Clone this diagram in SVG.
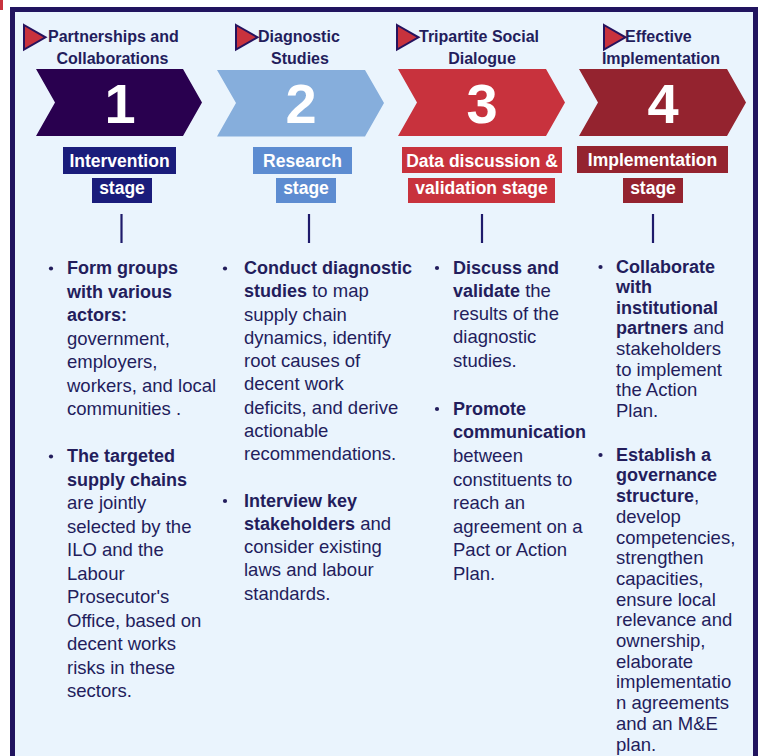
<svg xmlns="http://www.w3.org/2000/svg" width="763" height="756" viewBox="0 0 763 756">
<style>
.t{font-family:"Liberation Sans",Arial,sans-serif;font-size:18.5px;fill:#231d5c}
.b{font-weight:bold;font-size:18px}
.title{font-family:"Liberation Sans",Arial,sans-serif;font-weight:bold;font-size:16px;fill:#231d5c}
.mid{text-anchor:middle}
.num{font-family:"Liberation Sans",Arial,sans-serif;font-weight:bold;font-size:56px;fill:#ffffff;text-anchor:middle}
.lab{font-family:"Liberation Sans",Arial,sans-serif;font-weight:bold;font-size:17.5px;fill:#ffffff;text-anchor:middle}
.tri{fill:#c8323d;stroke:#26135e;stroke-width:2;stroke-linejoin:miter}
.dot{fill:#231d5c}
.conn{stroke:#1e1a6b;stroke-width:2.2}
</style>
<rect x="0" y="0" width="763" height="756" fill="#ffffff"/>
<rect x="0" y="0" width="3" height="10" fill="#c8323d"/>
<rect x="12.5" y="9.5" width="743" height="800" fill="#eaf4fd" stroke="#21145f" stroke-width="5"/>

<g id="connectors">
<line class="conn" x1="121.5" y1="214" x2="121.5" y2="243"/>
<line class="conn" x1="309" y1="214" x2="309" y2="243"/>
<line class="conn" x1="482" y1="214" x2="482" y2="243"/>
<line class="conn" x1="653" y1="214" x2="653" y2="243"/>
</g>

<g id="stage1">
<polygon class="tri" points="24,25 45.5,37.3 24,49.5"/>
<text class="title" x="48" y="42">Partnerships and</text>
<text class="title mid" x="112.5" y="64">Collaborations</text>
<polygon points="36,69 183,69 202,102.5 183,136 36,136 55,102.5" fill="#29004f"/>
<text class="num" x="120" y="123">1</text>
<rect x="63" y="147" width="113" height="27" fill="#1a1c7b"/>
<text class="lab" x="119.5" y="167">Intervention</text>
<rect x="92" y="178" width="60" height="25" fill="#1a1c7b"/>
<text class="lab" x="122" y="194">stage</text>
<circle class="dot" cx="51" cy="268.5" r="2.1"/>
<circle class="dot" cx="51" cy="456.5" r="2.1"/>
<text class="t">
<tspan class="b" x="67" y="274">Form groups</tspan>
<tspan class="b" x="67" y="297.5">with various</tspan>
<tspan class="b" x="67" y="321">actors:</tspan>
<tspan x="67" y="344.5">government,</tspan>
<tspan x="67" y="368">employers,</tspan>
<tspan x="67" y="391.5">workers, and local</tspan>
<tspan x="67" y="415">communities .</tspan>
<tspan class="b" x="67" y="462">The targeted</tspan>
<tspan class="b" x="67" y="485.5">supply chains</tspan>
<tspan x="67" y="509">are jointly</tspan>
<tspan x="67" y="532.5">selected by the</tspan>
<tspan x="67" y="556">ILO and the</tspan>
<tspan x="67" y="579.5">Labour</tspan>
<tspan x="67" y="603">Prosecutor's</tspan>
<tspan x="67" y="626.5">Office, based on</tspan>
<tspan x="67" y="650">decent works</tspan>
<tspan x="67" y="673.5">risks in these</tspan>
<tspan x="67" y="697">sectors.</tspan>
</text>
</g>

<g id="stage2">
<polygon class="tri" points="236,25 257.5,37.3 236,49.5"/>
<text class="title" x="258" y="42">Diagnostic</text>
<text class="title mid" x="300" y="64">Studies</text>
<polygon points="217,70 365,70 384,103 365,136.5 217,136.5 236,103" fill="#86aedc"/>
<text class="num" x="301" y="123">2</text>
<rect x="253" y="147" width="99" height="27" fill="#5d8cd1"/>
<text class="lab" x="302.5" y="167">Research</text>
<rect x="276" y="178" width="60" height="25" fill="#5d8cd1"/>
<text class="lab" x="306" y="194">stage</text>
<circle class="dot" cx="225" cy="268.5" r="2.1"/>
<circle class="dot" cx="225" cy="501" r="2.1"/>
<text class="t">
<tspan class="b" x="244" y="274">Conduct diagnostic</tspan>
<tspan x="244" y="297.25"><tspan class="b">studies</tspan> to map</tspan>
<tspan x="244" y="320.5">supply chain</tspan>
<tspan x="244" y="343.75">dynamics, identify</tspan>
<tspan x="244" y="367">root causes of</tspan>
<tspan x="244" y="390.25">decent work</tspan>
<tspan x="244" y="413.5">deficits, and derive</tspan>
<tspan x="244" y="436.75">actionable</tspan>
<tspan x="244" y="460">recommendations.</tspan>
<tspan class="b" x="244" y="506.5">Interview key</tspan>
<tspan x="244" y="529.75"><tspan class="b">stakeholders</tspan> and</tspan>
<tspan x="244" y="553">consider existing</tspan>
<tspan x="244" y="576.25">laws and labour</tspan>
<tspan x="244" y="599.5">standards.</tspan>
</text>
</g>

<g id="stage3">
<polygon class="tri" points="397,25 418.5,37.3 397,49.5"/>
<text class="title" x="419" y="42">Tripartite Social</text>
<text class="title mid" x="482" y="64">Dialogue</text>
<polygon points="398,69 546,69 565,102.5 546,136 398,136 417,102.5" fill="#c8323d"/>
<text class="num" x="482" y="123">3</text>
<rect x="402" y="147" width="160" height="26" fill="#c8323d"/>
<text class="lab" x="482" y="166.5">Data discussion &amp;</text>
<rect x="408" y="178" width="147" height="25" fill="#c8323d"/>
<text class="lab" x="481.5" y="194">validation stage</text>
<circle class="dot" cx="437" cy="268" r="2.1"/>
<circle class="dot" cx="437" cy="409" r="2.1"/>
<text class="t">
<tspan class="b" x="453" y="273.5">Discuss and</tspan>
<tspan x="453" y="296.8"><tspan class="b">validate</tspan> the</tspan>
<tspan x="453" y="320.1">results of the</tspan>
<tspan x="453" y="343.4">diagnostic</tspan>
<tspan x="453" y="366.7">studies.</tspan>
<tspan class="b" x="453" y="414.8">Promote</tspan>
<tspan class="b" x="453" y="438.4">communication</tspan>
<tspan x="453" y="462">between</tspan>
<tspan x="453" y="485.6">constituents to</tspan>
<tspan x="453" y="509.2">reach an</tspan>
<tspan x="453" y="532.8">agreement on a</tspan>
<tspan x="453" y="556.4">Pact or Action</tspan>
<tspan x="453" y="580">Plan.</tspan>
</text>
</g>

<g id="stage4">
<polygon class="tri" points="604,25 625.5,37.3 604,49.5"/>
<text class="title" x="625" y="42">Effective</text>
<text class="title mid" x="661" y="64">Implementation</text>
<polygon points="579,69 727,69 746,102.5 727,136 579,136 598,102.5" fill="#94232f"/>
<text class="num" x="663" y="123">4</text>
<rect x="577" y="146" width="151" height="27" fill="#94232f"/>
<text class="lab" x="652.5" y="166">Implementation</text>
<rect x="623" y="178" width="60" height="25" fill="#94232f"/>
<text class="lab" x="653" y="194">stage</text>
<circle class="dot" cx="600.5" cy="267" r="2.1"/>
<circle class="dot" cx="600.5" cy="455" r="2.1"/>
<text class="t">
<tspan class="b" x="616" y="272.7">Collaborate</tspan>
<tspan class="b" x="616" y="293.3">with</tspan>
<tspan class="b" x="616" y="313.8">institutional</tspan>
<tspan x="616" y="334.4"><tspan class="b">partners</tspan> and</tspan>
<tspan x="616" y="355">stakeholders</tspan>
<tspan x="616" y="375.6">to implement</tspan>
<tspan x="616" y="396.1">the Action</tspan>
<tspan x="616" y="416.7">Plan.</tspan>
<tspan class="b" x="616" y="460.7">Establish a</tspan>
<tspan class="b" x="616" y="481.4">governance</tspan>
<tspan x="616" y="502.1"><tspan class="b">structure</tspan>,</tspan>
<tspan x="616" y="522.8">develop</tspan>
<tspan x="616" y="543.5">competencies,</tspan>
<tspan x="616" y="564.2">strengthen</tspan>
<tspan x="616" y="584.9">capacities,</tspan>
<tspan x="616" y="605.6">ensure local</tspan>
<tspan x="616" y="626.3">relevance and</tspan>
<tspan x="616" y="647">ownership,</tspan>
<tspan x="616" y="667.7">elaborate</tspan>
<tspan x="616" y="688.4">implementatio</tspan>
<tspan x="616" y="709.1">n agreements</tspan>
<tspan x="616" y="729.8">and an M&amp;E</tspan>
<tspan x="616" y="750.5">plan.</tspan>
</text>
</g>
</svg>
